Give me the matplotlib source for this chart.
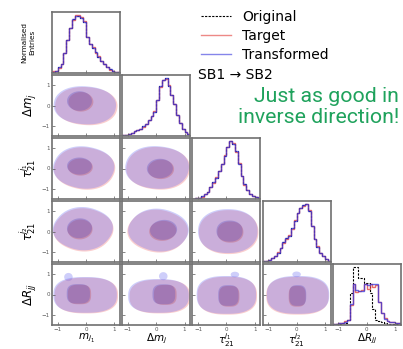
import numpy as np
import matplotlib
matplotlib.use("Agg")
import matplotlib.pyplot as plt
from matplotlib.patches import Polygon
from matplotlib.lines import Line2D

# ---------------------------------------------------------------- data
bin_edges = np.linspace(-1.2, 1.2, 25)

var_labels = [r"$m_{j_1}$", r"$\Delta m_j$", r"$\tau_{21}^{j_1}$",
              r"$\tau_{21}^{j_2}$", r"$\Delta R_{jj}$"]

mj1_target = [0.03, 0.04, 0.09, 0.16, 0.35, 0.57, 0.78, 0.92, 1.00, 1.00, 0.97, 0.91,
              0.62, 0.50, 0.45, 0.35, 0.29, 0.21, 0.16, 0.10, 0.06, 0.04, 0.02, 0.01]
mj1_transformed = [0.02, 0.04, 0.10, 0.16, 0.34, 0.57, 0.79, 0.93, 0.99, 0.99, 0.96, 0.89,
                   0.63, 0.51, 0.44, 0.36, 0.28, 0.21, 0.15, 0.10, 0.07, 0.04, 0.02, 0.01]
mj1_original = mj1_transformed

dmj_target = [0.01, 0.02, 0.04, 0.06, 0.08, 0.10, 0.13, 0.16, 0.21, 0.27, 0.34, 0.43,
              0.62, 0.86, 0.97, 0.99, 0.88, 0.72, 0.55, 0.36, 0.22, 0.13, 0.07, 0.04]
dmj_transformed = [0.01, 0.02, 0.04, 0.06, 0.08, 0.11, 0.13, 0.17, 0.21, 0.27, 0.34, 0.42,
                   0.63, 0.87, 0.98, 1.00, 0.87, 0.71, 0.55, 0.37, 0.22, 0.13, 0.07, 0.03]
dmj_original = dmj_transformed

tau1_target = [0.00, 0.01, 0.02, 0.04, 0.08, 0.13, 0.20, 0.28, 0.38, 0.48, 0.60, 0.76,
               0.90, 1.00, 0.97, 0.82, 0.62, 0.40, 0.25, 0.15, 0.09, 0.06, 0.03, 0.01]
tau1_transformed = [0.00, 0.01, 0.02, 0.05, 0.08, 0.12, 0.20, 0.29, 0.37, 0.49, 0.61, 0.75,
                    0.91, 1.00, 0.96, 0.83, 0.61, 0.40, 0.26, 0.15, 0.09, 0.05, 0.03, 0.01]
tau1_original = tau1_transformed

tau2_target = [0.01, 0.02, 0.04, 0.07, 0.11, 0.17, 0.25, 0.33, 0.40, 0.47, 0.58, 0.73,
               0.86, 0.93, 0.98, 1.00, 0.90, 0.62, 0.40, 0.27, 0.16, 0.10, 0.05, 0.02]
tau2_transformed = [0.01, 0.02, 0.04, 0.07, 0.11, 0.16, 0.25, 0.34, 0.41, 0.46, 0.59, 0.72,
                    0.85, 0.94, 0.99, 1.00, 0.89, 0.63, 0.40, 0.26, 0.16, 0.10, 0.05, 0.02]
tau2_original = tau2_transformed

dR_original = [0.01, 0.01, 0.02, 0.03, 0.04, 0.08, 0.53, 0.95, 0.95, 0.78, 0.78, 0.69,
               0.69, 0.53, 0.26, 0.09, 0.07, 0.05, 0.03, 0.02, 0.02, 0.01, 0.01, 0.01]
dR_target = [0.02, 0.02, 0.03, 0.04, 0.06, 0.09, 0.33, 0.68, 0.55, 0.56, 0.58, 0.67,
             0.60, 0.67, 0.62, 0.66, 0.38, 0.20, 0.11, 0.06, 0.05, 0.05, 0.04, 0.04]
dR_transformed = [0.02, 0.02, 0.03, 0.03, 0.05, 0.09, 0.35, 0.68, 0.57, 0.56, 0.56, 0.67,
                  0.66, 0.67, 0.68, 0.68, 0.38, 0.20, 0.10, 0.06, 0.05, 0.05, 0.04, 0.04]

hist_original = [mj1_original, dmj_original, tau1_original, tau2_original, dR_original]
hist_target = [mj1_target, dmj_target, tau1_target, tau2_target, dR_target]
hist_transformed = [mj1_transformed, dmj_transformed, tau1_transformed,
                    tau2_transformed, dR_transformed]

# density regions of the pairwise panels: (row, col)
pair_panels = [(1, 0), (2, 0), (3, 0), (4, 0), (2, 1), (3, 1), (4, 1), (3, 2), (4, 2), (4, 3)]
# outer (~90%) region: centre x, centre y, half width, half height, tilt [deg], squareness
outer_region = [(-0.04, 0.01, 1.10, 0.93, -8, 2.2), (-0.08, 0.05, 1.07, 1.02, -20, 2.2),
                (-0.11, 0.14, 1.03, 1.04, -30, 2.2), (-0.03, -0.02, 1.12, 0.88, 0, 2.6),
                (0.03, 0.05, 1.12, 1.04, -10, 2.2), (0.08, 0.07, 1.05, 1.02, -30, 2.2),
                (0.08, -0.07, 1.07, 0.83, 0, 2.6), (0.05, 0.02, 1.05, 1.08, 0, 2.2),
                (0.00, -0.02, 1.05, 0.93, 0, 2.6), (0.05, -0.02, 1.10, 0.93, 0, 2.6)]
# inner (~40%) region
inner_region = [(-0.23, 0.22, 0.44, 0.48, 0, 2.0), (-0.23, 0.12, 0.44, 0.42, -10, 2.0),
                (-0.23, 0.16, 0.44, 0.49, -10, 2.0), (-0.27, 0.03, 0.41, 0.48, 0, 3.0),
                (0.13, 0.00, 0.46, 0.48, -10, 2.0), (0.26, 0.08, 0.47, 0.50, -30, 2.0),
                (0.27, 0.01, 0.40, 0.49, 0, 3.0), (0.11, 0.02, 0.46, 0.52, 0, 2.2),
                (0.07, -0.05, 0.36, 0.51, 0, 3.0), (0.04, -0.05, 0.30, 0.51, 0, 3.0)]
# offset of the target regions with respect to the transformed ones
target_offset = [(0.05, -0.04), (0.03, -0.05), (0.02, -0.06), (0.04, -0.03),
                 (0.04, -0.04), (-0.03, -0.05), (0.05, -0.03), (0.03, -0.05),
                 (0.03, -0.04), (-0.02, -0.04)]
# small satellite lobe at high dR_jj in the transformed sample: x, y, half width, half height
transformed_lobe = [None, None, None, (-0.62, 0.86, 0.15, 0.2), None, None,
                    (0.25, 0.90, 0.15, 0.2), None, (0.30, 0.98, 0.15, 0.14),
                    (0.00, 0.99, 0.15, 0.14)]

# ---------------------------------------------------------------- style
target_line = "#e23a36"
transformed_line = "#3434dc"
outer_target_fill = (0.95, 0.45, 0.45)
outer_transformed_fill = (0.45, 0.45, 0.95)
inner_target_fill = (0.75, 0.30, 0.35)
inner_transformed_fill = (0.35, 0.30, 0.75)
outer_alpha = 0.35
inner_alpha = 0.33
frame_color = "#6f6f6f"


def region_outline(cx, cy, rx, ry, ang, p, npts=200):
    t = np.linspace(0, 2 * np.pi, npts, endpoint=False)
    c, s = np.cos(t), np.sin(t)
    x = rx * np.sign(c) * np.abs(c) ** (2 / p)
    y = ry * np.sign(s) * np.abs(s) ** (2 / p)
    a = np.deg2rad(ang)
    return np.column_stack([cx + x * np.cos(a) - y * np.sin(a),
                            cy + x * np.sin(a) + y * np.cos(a)])


W, H = 403, 349
fig = plt.figure(figsize=(W / 100, H / 100), dpi=100)

n = 5
col_left = [52 + 70.2 * c for c in range(n)]
row_top = [12 + 63 * r for r in range(n)]
pw, ph = 68, 61

axes = {}
for r in range(n):
    for c in range(r + 1):
        ax = fig.add_axes([col_left[c] / W, 1 - (row_top[r] + ph) / H, pw / W, ph / H])
        axes[(r, c)] = ax
        ax.set_xlim(-1.2, 1.2)
        for s in ax.spines.values():
            s.set_color(frame_color)
            s.set_linewidth(1.2)
        ax.set_xticks([-1, 0, 1])
        ax.tick_params(direction="in", length=2, width=0.5, colors="#555555",
                       labelsize=4, pad=1.6, top=False, right=False)
        if r != n - 1:
            ax.tick_params(labelbottom=False)
        if r == c:
            ax.set_yticks([])
        else:
            ax.set_ylim(-1.5, 1.5)
            ax.set_yticks([-1, 0, 1])
            if c != 0:
                ax.tick_params(labelleft=False)

# diagonal: one-dimensional distributions
for i in range(n):
    ax = axes[(i, i)]
    ax.stairs(hist_original[i], bin_edges, color="black", lw=0.8, ls=(0, (2, 1.2)))
    ax.stairs(hist_target[i], bin_edges, color=target_line, lw=1.0, alpha=0.75)
    ax.stairs(hist_transformed[i], bin_edges, color=transformed_line, lw=1.0, alpha=0.75)
    top = max(max(hist_original[i]), max(hist_target[i]), max(hist_transformed[i]))
    ax.set_ylim(0, top * 1.06)

# lower triangle: density regions
for k, (r, c) in enumerate(pair_panels):
    ax = axes[(r, c)]
    dx, dy = target_offset[k]
    layers = ((outer_region[k], outer_target_fill, outer_transformed_fill, outer_alpha),
              (inner_region[k], inner_target_fill, inner_transformed_fill, inner_alpha))
    for (cx, cy, rx, ry, ang, p), fc_t, fc_x, alpha in layers:
        ax.add_patch(Polygon(region_outline(cx + dx, cy + dy, rx, ry, ang, p),
                             closed=True, facecolor=fc_t, edgecolor="none", alpha=alpha))
        ax.add_patch(Polygon(region_outline(cx, cy, rx, ry, ang, p),
                             closed=True, facecolor=fc_x, edgecolor="none", alpha=alpha))
    if transformed_lobe[k] is not None:
        lx, ly, lrx, lry = transformed_lobe[k]
        ax.add_patch(Polygon(region_outline(lx, ly, lrx, lry, 0, 2.0), closed=True,
                             facecolor=outer_transformed_fill, edgecolor="none",
                             alpha=outer_alpha, zorder=0.5))

# axis labels
for c in range(n):
    ax = axes[(n - 1, c)]
    ax.set_xlabel(var_labels[c], fontsize=7.5)
    ax.xaxis.set_label_coords(0.5, -0.1)
for r in range(1, n):
    ax = axes[(r, 0)]
    ax.set_ylabel(var_labels[r], fontsize=8.5)
    ax.yaxis.set_label_coords(-0.21, 0.5)
axes[(0, 0)].set_ylabel("Normalised\nEntries", fontsize=5.2, linespacing=1.35)
axes[(0, 0)].yaxis.set_label_coords(-0.25, 0.5)

# legend
handles = [Line2D([], [], color="black", lw=0.8, ls=(0, (2, 1.2))),
           Line2D([], [], color=target_line, lw=1.0, alpha=0.6),
           Line2D([], [], color=transformed_line, lw=1.0, alpha=0.6)]
fig.legend(handles, ["Original", "Target", "Transformed"], loc="upper left",
           bbox_to_anchor=(191 / W, 1 - 0 / H), frameon=False, fontsize=10,
           handlelength=2.2, handletextpad=0.8, labelspacing=0.36, borderpad=0.2)
fig.text(198 / W, 1 - 75 / H, "SB1 \u2192 SB2", fontsize=10, va="center", ha="left")
fig.text(399 / W, 1 - 107 / H, "Just as good in\ninverse direction!", fontsize=15.3,
         family="Roboto", color="#1fa25c", ha="right", va="center", linespacing=1.18)

fig.savefig("out.png", dpi=100)
